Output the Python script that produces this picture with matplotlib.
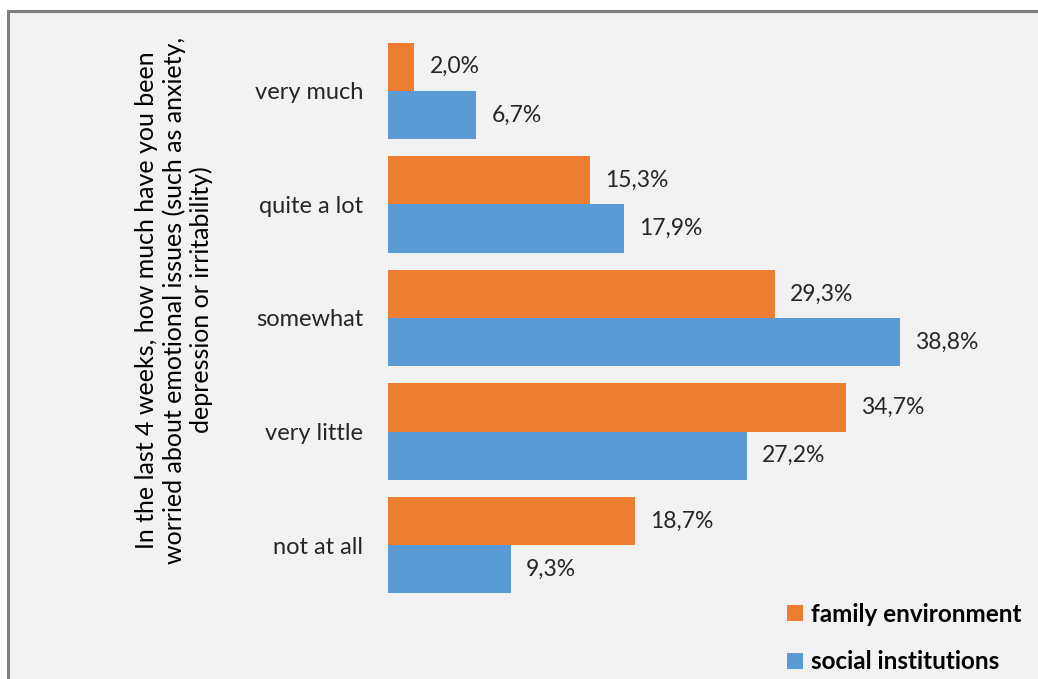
import matplotlib.pyplot as plt
from matplotlib.patches import Rectangle, Patch
import numpy as np

categories = ['very much', 'quite a lot', 'somewhat', 'very little', 'not at all']
family = [2.0, 15.3, 29.3, 34.7, 18.7]
social = [6.7, 17.9, 38.8, 27.2, 9.3]
series_names = ['family environment', 'social institutions']
ylabel = ('In the last 4 weeks, how much have you been\n'
          'worried about emotional issues (such as anxiety,\n'
          'depression or irritability)')

orange = '#ED7D31'
blue = '#5B9BD5'
plt.rcParams['font.family'] = ['Lato', 'DejaVu Sans']

W, H = 1038, 679
fig = plt.figure(figsize=(W / 100, H / 100), dpi=100, facecolor='white')

# chart area with grey frame (continues past right/bottom edge)
fig.patches.append(Rectangle((8 / W, -0.05), 1.05, 1.05 - 11 / H, transform=fig.transFigure,
                             facecolor='#f2f2f2', edgecolor='#7f7f7f', linewidth=2.2,
                             zorder=-5))

ax = fig.add_axes([388 / W, 1 - 602 / H, (1000 - 388) / W, (602 - 34) / H])
ax.set_facecolor('none')

y = np.arange(len(categories))
h = 0.425
b1 = ax.barh(y - h / 2, family, height=h, color=orange)
b2 = ax.barh(y + h / 2, social, height=h, color=blue)

ax.set_xlim(0, (1000 - 388) / 13.2)
ax.set_ylim(len(categories) - 0.5, -0.5)

for bars, vals in ((b1, family), (b2, social)):
    for rect, v in zip(bars, vals):
        ax.annotate(f'{v:.1f}%'.replace('.', ','),
                    (rect.get_width(), rect.get_y() + rect.get_height() / 2),
                    xytext=(15, 0), textcoords='offset pixels',
                    ha='left', va='center', fontsize=16.5, color='#262626')

ax.set_yticks(y)
ax.set_yticklabels(categories, fontsize=17, color='#262626')
ax.tick_params(axis='y', length=0, pad=18)
ax.set_xticks([])
for s in ax.spines.values():
    s.set_visible(False)

fig.text(174 / W, 1 - 300 / H, ylabel, rotation=90, ha='center', va='center',
         multialignment='center', fontsize=18, color='black', linespacing=1.2)

handles = [Patch(facecolor=orange), Patch(facecolor=blue)]
fig.legend(handles, series_names, loc='upper left', bbox_to_anchor=(765 / W, 1 - 581 / H),
           frameon=False, handlelength=0.65, handleheight=0.65, handletextpad=0.35,
           labelspacing=1.0, prop={'weight': 'bold', 'size': 17.5})

fig.savefig('out.png', dpi=100, facecolor=fig.get_facecolor())
